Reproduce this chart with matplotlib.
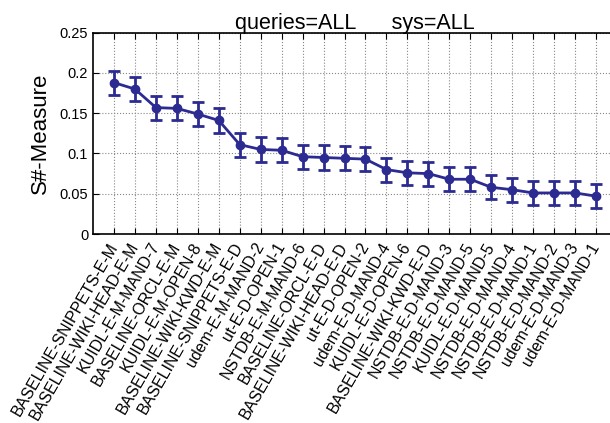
import numpy as np
import matplotlib.pyplot as plt

plt.rcParams['font.family'] = ['Liberation Sans', 'DejaVu Sans']

runs = ['BASELINE-SNIPPETS-E-M', 'BASELINE-WIKI-HEAD-E-M', 'KUIDL-E-M-MAND-7',
        'BASELINE-ORCL-E-M', 'KUIDL-E-M-OPEN-8', 'BASELINE-WIKI-KWD-E-M',
        'BASELINE-SNIPPETS-E-D', 'udem-E-M-MAND-2', 'ut-E-D-OPEN-1',
        'NSTDB-E-M-MAND-6', 'BASELINE-ORCL-E-D', 'BASELINE-WIKI-HEAD-E-D',
        'ut-E-D-OPEN-2', 'udem-E-D-MAND-4', 'KUIDL-E-D-OPEN-6',
        'BASELINE-WIKI-KWD-E-D', 'NSTDB-E-D-MAND-3', 'NSTDB-E-D-MAND-5',
        'KUIDL-E-D-MAND-5', 'NSTDB-E-D-MAND-4', 'NSTDB-E-D-MAND-1',
        'NSTDB-E-D-MAND-2', 'udem-E-D-MAND-3', 'udem-E-D-MAND-1']
score = [0.188, 0.180, 0.157, 0.156, 0.149, 0.141, 0.111, 0.105, 0.104,
         0.096, 0.095, 0.094, 0.093, 0.080, 0.076, 0.075, 0.068, 0.068,
         0.058, 0.055, 0.051, 0.051, 0.051, 0.047]
err = [0.015] * len(score)

x = np.arange(1, len(runs) + 1)
col = '#2b2b91'

fig = plt.figure(figsize=(6.1, 4.23), dpi=100)
ax = fig.add_axes([0.1525, 0.4468, 0.859, 0.4759])

ax.errorbar(x, score, yerr=err, color=col, lw=2, marker='o', ms=6,
            capsize=4.5, capthick=2, elinewidth=2)

ax.set_xlim(0, 25)
ax.set_ylim(0, 0.25)
ax.set_yticks([0, 0.05, 0.1, 0.15, 0.2, 0.25])
ax.set_yticklabels(['0', '0.05', '0.1', '0.15', '0.2', '0.25'], fontsize=10.5)
ax.set_xticks(x)
ax.set_xticklabels(runs, rotation=60, ha='right', va='center', fontsize=11.5,
                   rotation_mode='anchor')
ax.tick_params(direction='in', top=True, right=True, length=4, width=0.8)
ax.tick_params(axis='x', pad=7)
ax.grid(True, linestyle=':', color='#888888', lw=0.8)
for s in ax.spines.values():
    s.set_linewidth(1.2)

ax.set_ylabel('S#-Measure', fontsize=16, labelpad=6)
ax.set_title('queries=ALL      sys=ALL', fontsize=15.5, pad=3)

fig.savefig('out.png', dpi=100)
